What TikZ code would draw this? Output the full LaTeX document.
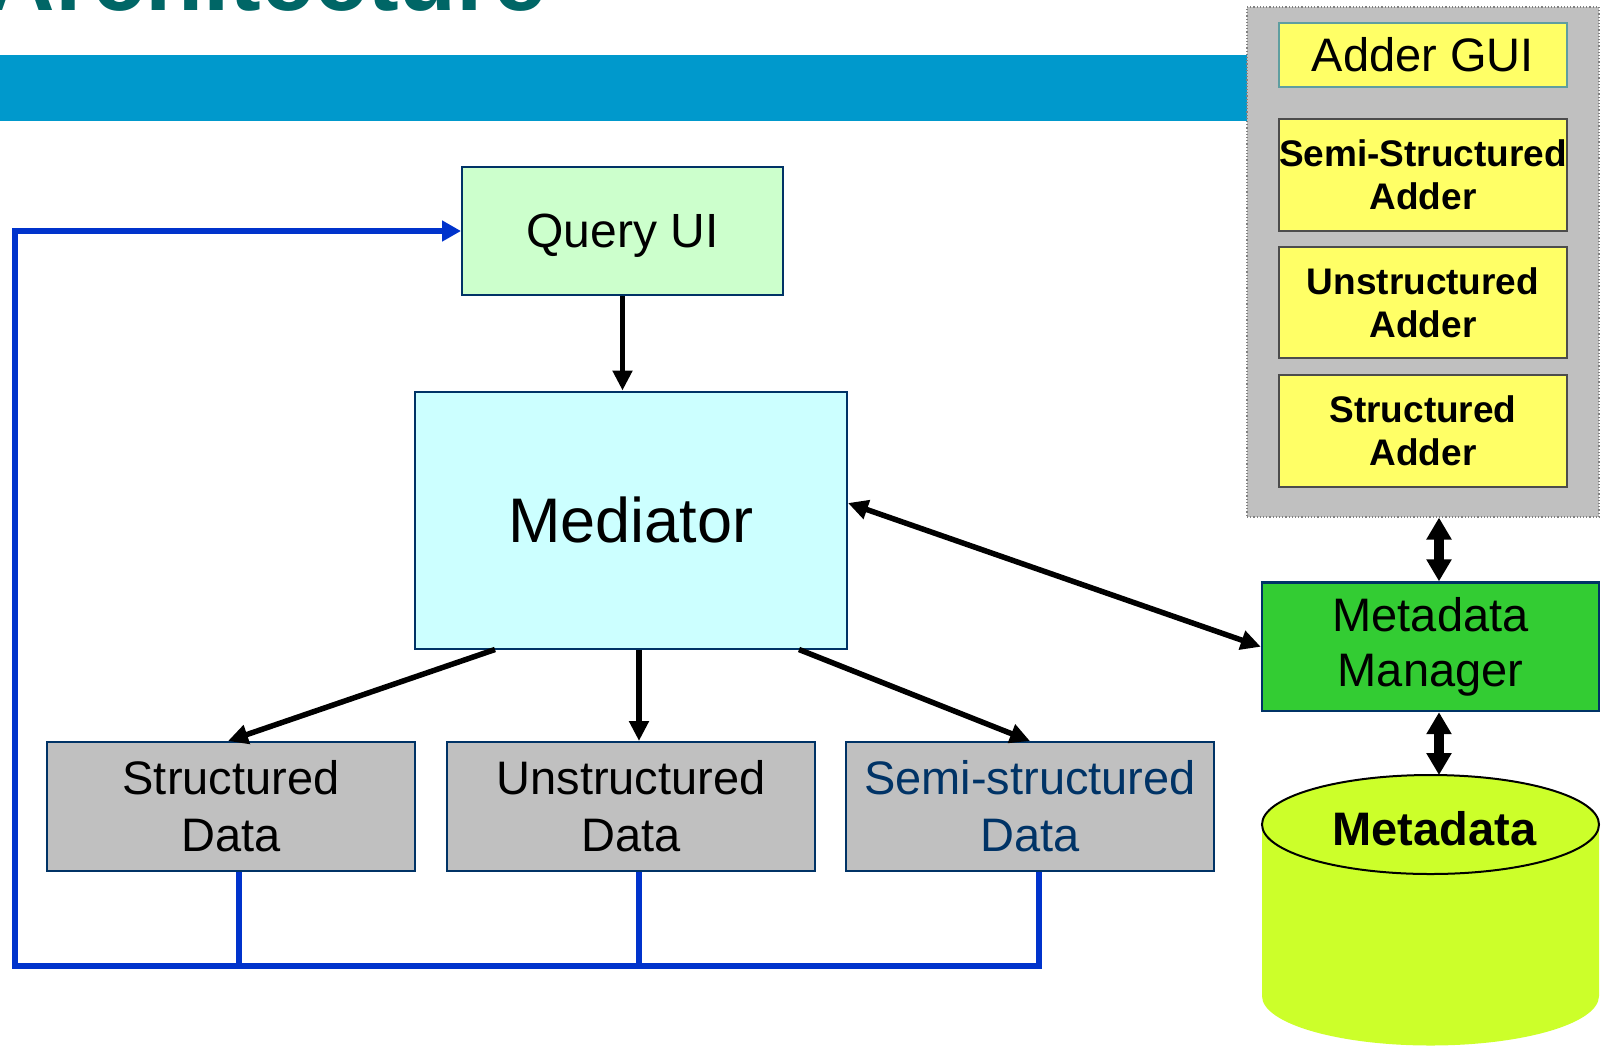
\documentclass[tikz,border=0pt]{standalone}
\usepackage{fontspec}
\setmainfont{Liberation Sans}
\usetikzlibrary{arrows.meta,calc}
\definecolor{barblue}{HTML}{0099CC}
\definecolor{titleteal}{HTML}{006666}
\definecolor{navy}{HTML}{003366}
\definecolor{qfill}{HTML}{CCFFCC}
\definecolor{mfill}{HTML}{CCFFFF}
\definecolor{grayfill}{HTML}{C0C0C0}
\definecolor{adderfill}{HTML}{FFFF66}
\definecolor{mmfill}{HTML}{33CC33}
\definecolor{dbfill}{HTML}{CCFF2A}
\definecolor{linkblue}{HTML}{0033CC}
\definecolor{guiborder}{HTML}{5F9EA0}
\definecolor{panelborder}{HTML}{808080}
\begin{document}
\begin{tikzpicture}[x=0.5pt,y=-0.5pt,
  box/.style={draw=navy, line width=1pt, inner sep=0pt, align=center},
  adder/.style={draw=black!70, line width=0.8pt, fill=adderfill, inner sep=0pt, align=center,
    minimum width=144pt, font=\fontsize{18.5}{21.5}\selectfont\bfseries},
  datab/.style={box, fill=grayfill, minimum width=184pt, minimum height=64.5pt,
    font=\fontsize{23.5}{28.5}\selectfont},
  blk/.style={line width=2.75pt, -{Triangle[length=10pt,width=9.5pt]}},
  dbl/.style={line width=2.75pt, {Triangle[length=10pt,width=9.5pt]}-{Triangle[length=10pt,width=9.5pt]}},
  tdbl/.style={line width=5pt, {Triangle[length=11pt,width=12pt]}-{Triangle[length=11pt,width=12pt]}},
  bl/.style={draw=linkblue, line width=3pt},
]
\useasboundingbox (0,0) rectangle (1603,1046);

% title (only its lower part is visible)
\begin{scope}
  \clip (0,0) rectangle (1603,1046);
  \node[anchor=base east, inner sep=0pt, text=titleteal,
        font=\fontsize{47.5}{50}\selectfont\bfseries] (title) at (547,10) {Architecture};
\end{scope}

% blue band
\fill[barblue] (0,55) rectangle (1247,121);

% adder panel
\node[fill=grayfill, draw=panelborder, densely dotted, line width=0.6pt, inner sep=0pt,
      minimum width=176pt, minimum height=255pt] (panel) at (1423,262) {};
\node[adder, draw=guiborder, minimum height=32pt, font=\fontsize{23.5}{27}\selectfont]
      (gui) at (1423,55) {Adder GUI};
\node[adder, minimum height=56pt] (ssa) at (1423,175) {Semi-Structured\\Adder};
\node[adder, minimum height=55.5pt] (ua) at (1423,302.5) {Unstructured\\Adder};
\node[adder, minimum height=56pt] (sa) at (1423,431) {Structured\\Adder};

% main boxes
\node[box, fill=qfill, minimum width=160.5pt, minimum height=64pt, text depth=0pt,
      font=\fontsize{24}{28}\selectfont] (qui) at (622.5,231) {Query UI};
\node[box, fill=mfill, minimum width=216pt, minimum height=128.5pt,
      font=\fontsize{31.5}{36}\selectfont] (med) at (631,520) {Mediator};
\node[datab] (sd) at (231,806.5) {Structured\\Data};
\node[datab] (ud) at (631,806.5) {Unstructured\\Data};
\node[datab, text=navy] (ssd) at (1030,806.5) {Semi-structured\\Data};
\node[box, fill=mmfill, line width=1.2pt, minimum width=168.5pt, minimum height=64.25pt,
      font=\fontsize{23.5}{27.75}\selectfont] (mm) at (1430.5,646.75) {Metadata\\Manager};

% database cylinder
\fill[dbfill] (1262,824.5) -- (1262,996)
  arc[start angle=180, end angle=360, x radius=84.25pt, y radius=24.75pt]
  -- (1599,824.5) -- cycle;
\draw[line width=1pt, fill=dbfill] (1430.5,824.5) ellipse [x radius=84.25pt, y radius=24.75pt];
\node[font=\fontsize{23.5}{27}\selectfont\bfseries] (db) at (1434.5,829) {Metadata};
\coordinate (dbtop) at (1439,775);

% helper coordinates
\coordinate (ax) at (1439,0);
\coordinate (x1) at (239,0);
\coordinate (x2) at (639,0);
\coordinate (x3) at (1039,0);
\coordinate (s1) at (495,0);
\coordinate (t1) at (228,0);
\coordinate (s3) at (799,0);
\coordinate (t3) at (1030,0);
\coordinate (p503) at (0,503);
\coordinate (busL) at (15,966);

% blue feedback lines
\draw[bl] (sd.south -| x1) -- (x1 |- busL);
\draw[bl] (ud.south -| x2) -- (x2 |- busL);
\draw[bl, -{Triangle[length=9.5pt,width=10pt]}] (ssd.south -| x3) -- (x3 |- busL) -- (busL)
  -- (busL |- qui.west) -- (qui.west);

% black arrows
\draw[blk] (qui.south) -- (qui.south |- med.north);
\draw[blk] (med.south -| s1) -- (sd.north -| t1);
\draw[blk] (med.south -| x2) -- (ud.north -| x2);
\draw[blk] (med.south -| s3) -- (ssd.north -| t3);
\draw[dbl] (med.east |- p503) -- (mm.west);
\draw[tdbl] (panel.south -| ax) -- (mm.north -| ax);
\draw[tdbl] (mm.south -| ax) -- (dbtop);
\end{tikzpicture}
\end{document}
